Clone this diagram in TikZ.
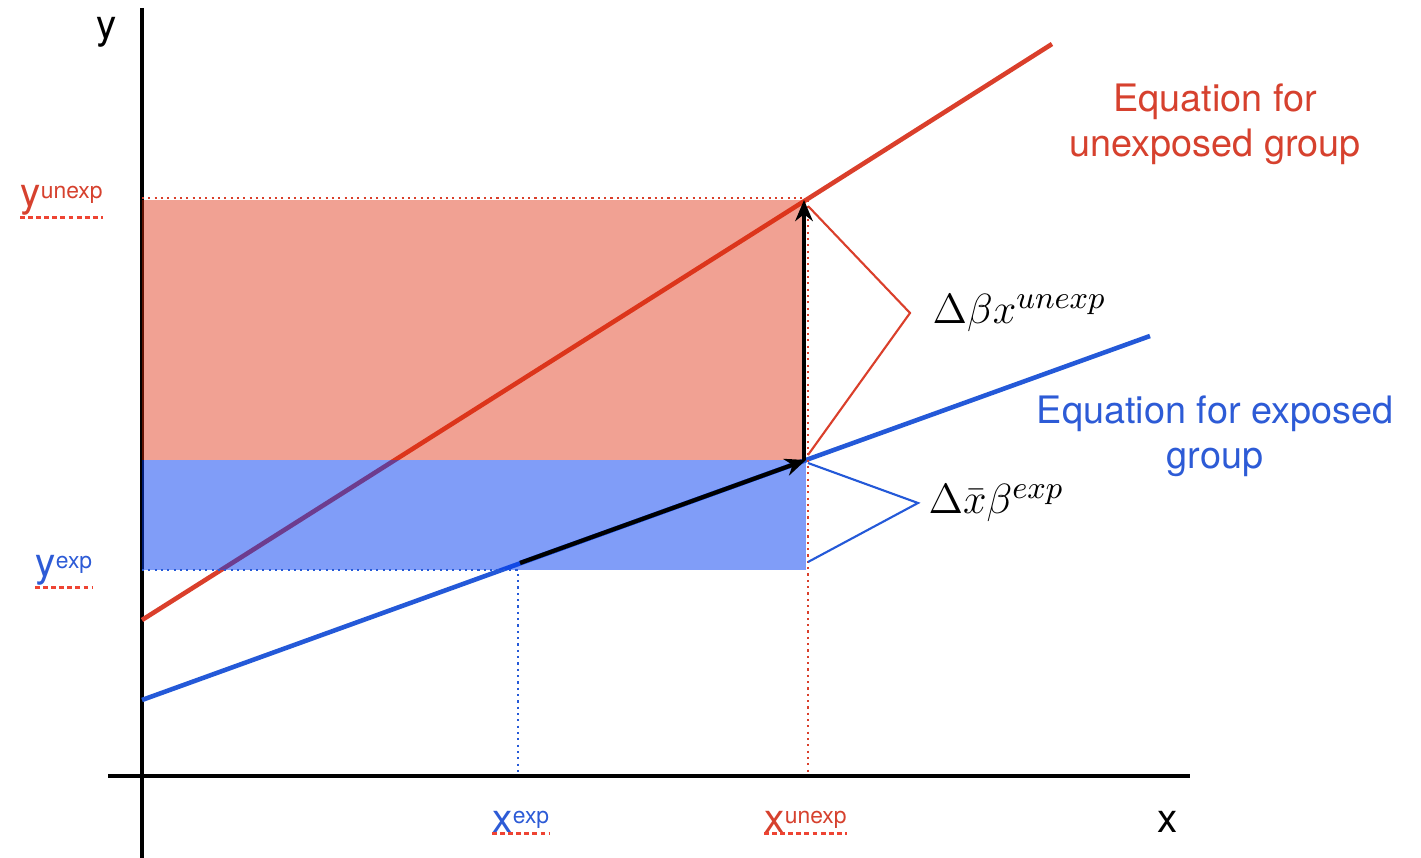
\documentclass[tikz,border=0pt]{standalone}
\usepackage[no-math]{fontspec}
\usepackage{tikz}
\usetikzlibrary{arrows.meta, positioning, calc}
\newfontfamily\helv{TeX Gyre Heros}
\definecolor{RedLine}{HTML}{DA3F2B}
\definecolor{BlueLine}{HTML}{2459D8}
\definecolor{RedFill}{HTML}{E02A08}
\definecolor{BlueFill}{HTML}{013BF1}
\definecolor{RedText}{HTML}{D6412E}
\definecolor{BlueText}{HTML}{2D5BD6}
\definecolor{DashRed}{HTML}{EE4433}
\newcommand{\suplab}[2]{#1\raisebox{2.5pt}{\fontsize{6.5}{7}\selectfont #2}}

\begin{document}
\begin{tikzpicture}[
    x=0.01cm, y=-0.01cm,
    axis/.style={line width=1.2pt, black},
    eqline/.style={line width=1.3pt},
    guide/.style={line width=0.6pt, dash pattern=on 0.6pt off 1.2pt},
    movearrow/.style={-{Stealth[length=6pt, width=5pt]}, line width=1.2pt, black},
    brace/.style={line width=0.6pt},
    axlbl/.style={font=\helv\fontsize{11.5}{13}\selectfont, inner sep=0pt, anchor=base west},
    eqlbl/.style={font=\helv\fontsize{10.75}{12.8}\selectfont, align=center},
    mathlbl/.style={font=\fontsize{12.5}{14}\selectfont, inner sep=0pt},
    underl/.style={DashRed, line width=0.85pt, dash pattern=on 1.4pt off 0.9pt}
  ]
    \useasboundingbox (0,0) rectangle (1421,858);

    % Coordinates
    \coordinate (yTop) at (142,8);
    \coordinate (yBot) at (142,858);
    \coordinate (xLeft) at (108,776);
    \coordinate (xRight) at (1190,776);
    \coordinate (r0) at (142,620);
    \coordinate (rU) at (806,200);
    \coordinate (r1) at (1052,44);
    \coordinate (b0) at (142,700);
    \coordinate (bE) at (806,460);
    \coordinate (bX) at (520,563);
    \coordinate (b1) at (1150,336);

    % Axes
    \draw[axis] (yTop) -- (yBot);
    \draw[axis] (xLeft) -- (xRight);

    % Group equations
    \draw[eqline, RedLine] (r0) -- (rU) -- (r1);
    \draw[eqline, BlueLine] (b0) -- (bE) -- (b1);

    % Shaded gaps
    \fill[RedFill, fill opacity=0.44] (142,200) rectangle (806,460);
    \fill[BlueFill, fill opacity=0.5] (142,460) rectangle (806,570);
    \draw[eqline, BlueLine] (bX) -- (bE);

    % Guides
    \draw[guide, RedLine] (142,198) -- (806,198);
    \draw[guide, RedLine] (808,200) -- (808,776);
    \draw[guide, BlueLine] (142,570) -- (518,570) -- (518,776);

    % Decomposition arrows
    \draw[movearrow] (804,460) -- (804,200);
    \draw[movearrow] (bX) -- (bE);

    % Brackets
    \coordinate (tipU) at (910,313);
    \coordinate (tipE) at (918,503);
    \draw[brace, RedLine] (808,206) -- (tipU) -- (808,455);
    \draw[brace, BlueLine] (808,463) -- (tipE) -- (808,562);
    \node[mathlbl, right=0.22cm of tipU] (dU) {$\Delta\beta x^{unexp}$};
    \node[mathlbl, right=0.1cm of tipE] (dE) {$\Delta\bar{x}\beta^{exp}$};

    % Axis labels
    \node[axlbl, RedText] (yu) at (20,207) {\suplab{y}{unexp}};
    \node[axlbl, BlueText] (ye) at (35,577) {\suplab{y}{exp}};
    \node[axlbl, BlueText] (xe) at (492,832) {\suplab{x}{exp}};
    \node[axlbl, RedText] (xu) at (764,832) {\suplab{x}{unexp}};
    \foreach \lbl in {yu, ye, xe, xu}
      \draw[underl] ([yshift=-0.3pt]\lbl.south west) -- ([yshift=-0.3pt]\lbl.south east);
    \node[font=\helv\fontsize{11.5}{13}\selectfont] (ylab) at (107,32) {y};
    \node[font=\helv\fontsize{11.5}{13}\selectfont] (xlab) at (1168,822) {x};

    % Equation labels
    \node[eqlbl, RedText] (unexpEq) at (1215,124) {Equation for\\unexposed group};
    \node[eqlbl, BlueText] (expEq) at (1215,436) {Equation for exposed\\group};
\end{tikzpicture}
\end{document}
